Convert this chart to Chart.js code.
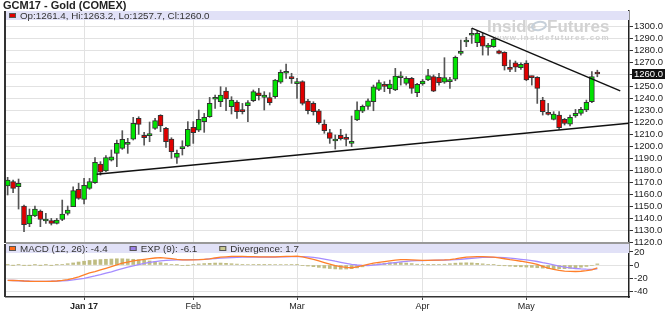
<!DOCTYPE html>
<html>
<head>
<meta charset="utf-8">
<title>GCM17 - Gold (COMEX)</title>
<script src="https://cdn.jsdelivr.net/npm/chart.js@4.4.1/dist/chart.umd.min.js"></script>
<style>
  html, body { margin: 0; padding: 0; background: #fff; }
  body { width: 665px; height: 311px; position: relative; overflow: hidden; }
  #title { position: absolute; left: 3px; top: -1px; z-index: 2; font: bold 11px "Liberation Sans", Arial, sans-serif; color: #222; white-space: nowrap; }
  .panel { position: absolute; left: 0; width: 665px; }
  #pricePanel { top: 0; height: 245px; }
  #macdPanel { top: 244px; height: 67px; }
</style>
</head>
<body>
<div class="panel" id="pricePanel"><canvas id="priceChart"></canvas></div>
<div class="panel" id="macdPanel"><canvas id="macdChart"></canvas></div>
<div id="title">GCM17 - Gold (COMEX)</div>
<script>
// Trading days on the chart, Dec 12 2016 .. May 18 2017
const dates = [
  '12-12','12-13','12-14','12-15','12-16','12-19','12-20','12-21','12-22','12-23','12-27','12-28','12-29','12-30',
  '01-03','01-04','01-05','01-06','01-09','01-10','01-11','01-12','01-13','01-17','01-18','01-19','01-20','01-23','01-24','01-25','01-26','01-27','01-30','01-31',
  '02-01','02-02','02-03','02-06','02-07','02-08','02-09','02-10','02-13','02-14','02-15','02-16','02-17','02-21','02-22','02-23','02-24','02-27','02-28',
  '03-01','03-02','03-03','03-06','03-07','03-08','03-09','03-10','03-13','03-14','03-15','03-16','03-17','03-20','03-21','03-22','03-23','03-24','03-27','03-28','03-29','03-30','03-31',
  '04-03','04-04','04-05','04-06','04-07','04-10','04-11','04-12','04-13','04-17','04-18','04-19','04-20','04-21','04-24','04-25','04-26','04-27','04-28',
  '05-01','05-02','05-03','05-04','05-05','05-08','05-09','05-10','05-11','05-12','05-15','05-16','05-17','05-18'
];

const opens = [
  1166.7,1170.3,1166.1,1150.0,1135.0,1141.7,1145.8,1137.5,1137.8,1135.6,
  1138.9,1143.9,1149.4,1163.9,1155.6,1164.7,1169.4,1185.0,1179.2,1188.3,
  1193.9,1198.1,1201.4,1205.8,1223.1,1208.9,1208.6,1214.7,1225.5,1214.7,
  1205.8,1190.6,1197.8,1200.0,1215.5,1213.3,1220.3,1224.4,1239.0,1236.9,
  1245.8,1232.8,1236.7,1230.0,1233.6,1237.8,1244.4,1240.5,1240.3,1241.1,
  1253.3,1260.6,1256.6,1252.0,1253.6,1237.5,1235.5,1229.4,1218.3,1211.1,
  1204.2,1208.9,1206.7,1202.2,1221.7,1229.0,1233.0,1236.9,1247.2,1250.8,
  1247.8,1246.7,1256.9,1252.2,1256.4,1244.4,1251.7,1255.0,1257.8,1257.2,
  1253.3,1253.6,1255.6,1277.2,1286.7,1292.3,1286.1,1291.7,1282.2,1282.8,
  1279.4,1278.0,1265.3,1269.4,1265.3,1268.9,1257.4,1257.2,1238.3,1228.0,
  1222.2,1225.8,1222.2,1218.3,1225.0,1227.2,1230.0,1236.9,1261.4
];
const highs = [
  1173.9,1171.7,1172.5,1150.8,1147.5,1150.0,1146.7,1143.9,1139.7,1139.7,
  1155.0,1150.0,1166.1,1169.0,1173.0,1173.0,1190.3,1187.0,1192.0,1196.7,
  1205.0,1212.8,1206.4,1223.9,1224.4,1211.4,1220.0,1223.0,1226.1,1215.5,
  1206.9,1196.7,1204.4,1220.3,1220.3,1230.0,1227.2,1240.5,1242.5,1249.4,
  1248.6,1241.1,1237.8,1235.5,1237.8,1246.7,1248.0,1245.3,1244.4,1255.5,
  1263.3,1268.3,1260.6,1256.4,1254.4,1238.9,1236.9,1230.5,1221.7,1213.9,
  1209.2,1213.9,1210.0,1225.0,1236.9,1234.2,1239.4,1250.8,1255.0,1253.6,
  1255.0,1264.7,1261.9,1257.8,1257.2,1252.2,1255.5,1263.9,1259.2,1260.6,
  1273.6,1257.2,1275.0,1288.3,1290.6,1297.9,1296.1,1293.9,1285.5,1289.7,
  1280.0,1278.6,1271.7,1270.8,1269.4,1271.1,1258.3,1257.8,1240.6,1235.5,
  1228.6,1228.6,1223.0,1225.8,1230.5,1232.2,1238.3,1262.0,1263.2
];
const lows = [
  1159.2,1161.1,1147.5,1128.6,1132.8,1141.1,1132.8,1135.6,1134.2,1135.0,
  1137.8,1142.5,1149.4,1155.6,1151.7,1163.9,1168.9,1175.8,1178.6,1187.5,
  1182.8,1197.2,1193.9,1205.0,1209.7,1200.8,1203.6,1213.9,1212.0,1198.9,
  1189.7,1185.5,1192.5,1199.4,1202.2,1212.0,1211.4,1223.9,1231.4,1232.8,
  1229.4,1226.7,1223.0,1226.7,1220.3,1236.9,1238.3,1230.0,1234.2,1239.7,
  1252.2,1256.4,1252.2,1239.7,1234.2,1226.7,1225.8,1218.3,1210.6,1202.2,
  1197.5,1205.0,1200.0,1199.4,1221.1,1227.8,1230.6,1229.4,1246.1,1245.3,
  1243.9,1246.1,1250.8,1250.8,1243.9,1241.1,1250.6,1254.4,1245.3,1250.8,
  1252.2,1248.0,1254.4,1275.8,1282.8,1285.5,1282.8,1275.8,1275.8,1282.2,
  1276.7,1263.3,1262.0,1262.0,1263.9,1254.4,1250.8,1235.5,1225.8,1225.8,
  1221.7,1213.9,1217.5,1216.7,1223.9,1225.8,1228.6,1236.1,1257.7
];
const closes = [
  1171.7,1164.7,1168.9,1134.4,1142.5,1147.5,1138.9,1138.6,1135.6,1138.3,
  1143.3,1146.7,1162.8,1156.4,1167.2,1170.3,1186.4,1178.3,1190.3,1191.1,
  1202.2,1205.6,1202.0,1218.9,1218.1,1207.0,1210.0,1221.1,1216.7,1203.6,
  1195.3,1193.9,1199.2,1213.9,1211.1,1222.2,1223.9,1235.6,1239.6,1242.5,
  1239.2,1238.3,1228.6,1228.6,1236.1,1245.3,1242.0,1242.5,1236.1,1255.0,
  1261.4,1262.0,1256.2,1253.0,1235.5,1229.4,1228.6,1219.4,1212.8,1206.4,
  1205.0,1206.1,1205.5,1203.6,1230.0,1233.0,1237.6,1249.4,1252.8,1249.7,
  1251.7,1258.3,1258.3,1256.4,1248.0,1251.4,1254.2,1258.6,1245.8,1252.8,
  1257.0,1255.0,1273.9,1277.8,1287.2,1292.7,1293.9,1283.3,1284.2,1288.9,
  1277.2,1266.7,1263.9,1265.6,1268.0,1255.0,1257.0,1248.0,1228.6,1226.4,
  1226.7,1215.3,1218.9,1223.9,1227.2,1230.5,1236.4,1257.8,1260.0
];

// MACD panel
const macdLine = [
  -23.6,-23.8,-24.0,-24.6,-25.0,-25.2,-25.2,-25.2,-25.0,-24.6,
  -23.6,-22.4,-20.6,-18.2,-15.2,-12.2,-10.0,-7.4,-5.0,-2.4,
  0.2,2.8,4.6,6.4,7.6,8.8,9.8,10.8,11.2,10.6,
  9.8,8.8,8.0,7.8,8.0,8.2,8.8,9.4,10.8,12.0,
  12.6,13.2,13.2,13.2,13.0,12.8,12.6,12.6,12.4,12.6,
  13.0,13.2,13.4,13.6,12.4,10.6,8.8,6.4,3.8,1.4,
  -1.0,-2.6,-3.8,-4.2,-2.8,-0.8,1.0,2.8,4.0,5.2,
  6.4,7.6,8.4,8.4,8.0,7.6,7.2,7.2,7.4,7.6,
  7.8,8.4,9.4,10.8,12.0,12.6,13.0,13.0,12.6,12.0,
  11.0,9.6,8.2,7.0,5.8,4.4,3.0,0.8,-2.2,-4.8,
  -6.8,-8.4,-9.4,-9.8,-10.0,-9.6,-8.8,-7.4,-4.4
];
const signalLine = [
  -23.6,-23.8,-24.2,-24.6,-24.9,-25.2,-25.2,-25.2,-25.0,-24.8,
  -24.4,-23.8,-22.8,-21.8,-20.4,-18.6,-16.8,-14.8,-12.6,-10.4,
  -8.0,-5.6,-3.4,-1.4,0.6,2.4,4.0,5.2,6.2,7.0,
  7.4,7.8,8.0,8.0,8.2,8.4,8.8,9.4,10.0,10.6,
  11.0,11.4,11.8,12.0,12.2,12.2,12.2,12.2,12.2,12.2,
  12.4,12.6,12.8,12.9,12.8,12.4,11.6,10.6,9.2,7.6,
  5.8,4.2,2.6,1.0,0.0,-0.6,-0.8,-0.2,0.8,1.8,
  2.8,3.8,4.8,5.6,6.2,6.6,6.8,7.0,7.2,7.4,
  7.6,7.8,8.2,8.8,9.6,10.4,11.0,11.6,11.8,11.8,
  11.6,11.2,10.6,9.8,8.8,7.8,6.6,5.4,3.6,2.0,
  0.2,-1.6,-3.2,-4.4,-5.4,-6.0,-6.4,-6.6,-6.1
];
const divergence = [
  0.3,-0.2,0.3,-0.3,-0.2,0.2,-0.2,0.2,-0.3,0.3,
  1.0,2.0,3.2,4.6,5.8,7.0,7.8,8.4,8.8,9.2,
  9.6,9.6,9.2,8.8,8.2,7.2,6.2,5.0,3.6,2.2,
  1.0,0.2,-0.6,-0.2,0.4,1.6,2.2,2.6,3.0,3.0,
  2.6,2.0,1.4,1.0,0.8,0.6,0.4,0.4,0.6,0.8,
  0.8,0.8,0.6,0.4,-0.6,-1.6,-2.6,-3.6,-4.6,-5.4,
  -6.0,-6.4,-6.2,-5.6,-4.4,-2.8,-1.0,0.6,1.8,2.8,
  3.4,3.8,3.6,3.0,2.2,1.2,0.6,0.4,0.4,0.6,
  1.2,2.0,2.8,3.2,3.4,3.2,2.6,1.8,1.0,0.4,
  -0.4,-1.2,-1.8,-2.4,-2.8,-3.2,-3.6,-4.2,-4.8,-5.4,
  -5.8,-5.8,-5.6,-5.2,-4.4,-3.4,-2.2,-0.8,1.7
];

// Trend lines: candle index / price of each end
const upperTrendIdx = [85, 112.2];
const upperTrendPrice = [1298.2, 1245.9];
const lowerTrendIdx = [16.3, 113.8];
const lowerTrendPrice = [1176.4, 1219.0];

// Axis ticks
const monthTickDates = ['01-03', '02-01', '03-01', '04-03', '05-01'];
const monthTickLabels = ['Jan 17', 'Feb', 'Mar', 'Apr', 'May'];
const priceTicks = [1120,1130,1140,1150,1160,1170,1180,1190,1200,1210,1220,1230,1240,1250,1260,1270,1280,1290,1300];
const macdTicks = [20, 0, -20, -40];

const FONT = '"Liberation Sans", Arial, sans-serif';
const GREEN = '#00e400', RED = '#e00000';
const xMin = -0.3, xMax = 113.8;
const monthIdx = monthTickDates.map(d => dates.indexOf(d));
const lastI = closes.length - 1;
const fmt = v => v.toFixed(1);

// scales must not steal extra room for their end labels
const noPad = s => { s.paddingTop = 0; s.paddingBottom = 0; s.paddingLeft = 0; s.paddingRight = 0; };

const xAxis = (showLabels) => ({
    type: 'linear',
    min: xMin,
    max: xMax,
    offset: false,
    afterBuildTicks: s => { s.ticks = monthIdx.map(v => ({ value: v })); },
    grid: { offset: false, color: '#e2e2e2', drawTicks: showLabels, tickLength: 3, tickColor: '#444' },
    border: { display: showLabels, color: '#333', width: 1.5 },
    ticks: {
        display: showLabels,
        autoSkip: false,
        maxRotation: 0,
        padding: 1,
        color: '#222',
        font: c => ({ family: FONT, size: 9, weight: c.tick && c.tick.value === monthIdx[0] ? 'bold' : 'normal' }),
        callback: v => monthTickLabels[monthIdx.indexOf(v)]
    },
    afterFit: s => { s.height = showLabels ? 14 : 0; noPad(s); }
});

const yAxis = (ticks, lo, hi, label) => ({
    position: 'right',
    min: lo,
    max: hi,
    afterBuildTicks: s => { s.ticks = ticks.map(v => ({ value: v })); },
    grid: { color: '#e2e2e2', tickLength: 4, tickColor: '#333' },
    border: { color: '#222', width: 1.5 },
    ticks: { color: '#222', padding: 1, autoSkip: false, font: { family: FONT, size: 9.5 }, callback: label },
    afterFit: s => { s.width = 36; noPad(s); }
});

// Lavender strip with legend squares across the top of a panel
const headerPlugin = {
    id: 'header',
    beforeDatasetsDraw(chart, args, opts) {
        const { ctx, chartArea: a } = chart;
        ctx.save();
        ctx.fillStyle = '#e1e1f7';
        ctx.fillRect(a.left, a.top, a.right - a.left, 9);
        ctx.font = '9.8px ' + FONT;
        ctx.textBaseline = 'middle';
        let x = a.left + 3;
        opts.items.forEach(it => {
            ctx.fillStyle = it.color;
            ctx.fillRect(x, a.top + 2, 7, 5);
            ctx.strokeStyle = '#555';
            ctx.lineWidth = 1;
            ctx.strokeRect(x + 0.5, a.top + 2.5, 6, 4);
            ctx.fillStyle = '#333';
            ctx.fillText(it.text, x + 11, a.top + 5);
            x += 11 + ctx.measureText(it.text).width + 22;
        });
        ctx.restore();
    },
    afterDraw(chart) {
        const { ctx, chartArea: a } = chart;
        ctx.save();
        ctx.fillStyle = '#333';
        ctx.fillRect(a.left - 2, a.top, 2, a.bottom - a.top);
        ctx.restore();
    }
};

// Inside Futures watermark and the last-price tag
const pricePlugin = {
    id: 'priceExtras',
    beforeDatasetsDraw(chart) {
        const { ctx, chartArea: a } = chart;
        ctx.save();
        ctx.fillStyle = '#d2d2d2';
        ctx.textBaseline = 'alphabetic';
        ctx.font = 'bold 17px ' + FONT;
        ctx.fillText('Inside', a.right - 142, a.top + 21);
        ctx.fillText('Futures', a.right - 82, a.top + 21);
        ctx.strokeStyle = '#c6d0da';
        ctx.lineWidth = 2;
        ctx.beginPath();
        ctx.ellipse(a.right - 90, a.top + 15, 7, 4, -0.2, 0, Math.PI * 2);
        ctx.stroke();
        ctx.font = 'bold 8px ' + FONT;
        ctx.letterSpacing = '1.2px';
        ctx.fillText('www.insidefutures.com', a.right - 134, a.top + 29);
        ctx.restore();
    },
    afterDraw(chart) {
        const { ctx, chartArea: a } = chart;
        const y = chart.scales.y.getPixelForValue(closes[lastI]);
        ctx.save();
        ctx.fillStyle = '#999';
        ctx.fillRect(a.left, a.bottom - 1, a.right - a.left, 2);
        ctx.fillStyle = '#111';
        ctx.fillRect(a.right + 3, y - 5, 33, 10);
        ctx.fillStyle = '#fff';
        ctx.font = '9.5px ' + FONT;
        ctx.textBaseline = 'middle';
        ctx.fillText(fmt(closes[lastI]), a.right + 5, y + 0.5);
        ctx.restore();
    }
};

const up = closes.map((c, i) => c >= opens[i]);

new Chart(document.getElementById('priceChart'), {
    type: 'bar',
    data: {
        datasets: [
            {
                type: 'line',
                data: upperTrendIdx.map((x, i) => ({ x: x, y: upperTrendPrice[i] })),
                borderColor: '#111', borderWidth: 1.5, pointRadius: 0, order: 0
            },
            {
                type: 'line',
                data: lowerTrendIdx.map((x, i) => ({ x: x, y: lowerTrendPrice[i] })),
                borderColor: '#111', borderWidth: 1.5, pointRadius: 0, order: 0
            },
            {
                // candle bodies
                data: dates.map((d, i) => ({ x: i, y: [opens[i], closes[i]] })),
                backgroundColor: up.map(u => u ? GREEN : RED),
                borderColor: '#333', borderWidth: 1, borderSkipped: false,
                barThickness: 5, minBarLength: 2, grouped: false, order: 1
            },
            {
                // wicks
                data: dates.map((d, i) => ({ x: i, y: [lows[i], highs[i]] })),
                backgroundColor: '#555', barThickness: 1, grouped: false, order: 2
            }
        ]
    },
    options: {
        responsive: true,
        maintainAspectRatio: false,
        animation: false,
        devicePixelRatio: 1,
        events: [],
        layout: { padding: { left: 6, top: 11, right: 0, bottom: 2 } },
        scales: {
            x: xAxis(false),
            y: yAxis(priceTicks, 1119.2, 1312.5, v => fmt(v))
        },
        plugins: {
            legend: { display: false },
            tooltip: { enabled: false },
            header: {
                items: [{
                    color: closes[lastI] >= opens[lastI] ? GREEN : RED,
                    text: 'Op:' + fmt(opens[lastI]) + ', Hi:' + fmt(highs[lastI]) + ', Lo:' + fmt(lows[lastI]) + ', Cl:' + fmt(closes[lastI])
                }]
            }
        }
    },
    plugins: [headerPlugin, pricePlugin]
});

new Chart(document.getElementById('macdChart'), {
    type: 'bar',
    data: {
        datasets: [
            {
                type: 'line',
                data: macdLine.map((v, i) => ({ x: i, y: v })),
                borderColor: '#ff7f2a', borderWidth: 1.3, pointRadius: 0, order: 0
            },
            {
                type: 'line',
                data: signalLine.map((v, i) => ({ x: i, y: v })),
                borderColor: '#a58cff', borderWidth: 1.3, pointRadius: 0, order: 0
            },
            {
                data: divergence.map((v, i) => ({ x: i, y: v })),
                backgroundColor: '#bfbc82', barThickness: 3, grouped: false, order: 1
            }
        ]
    },
    options: {
        responsive: true,
        maintainAspectRatio: false,
        animation: false,
        devicePixelRatio: 1,
        events: [],
        layout: { padding: { left: 6, top: 0, right: 0, bottom: 0 } },
        scales: {
            x: xAxis(true),
            y: yAxis(macdTicks, -49.2, 32.3, v => String(v))
        },
        plugins: {
            legend: { display: false },
            tooltip: { enabled: false },
            header: {
                items: [
                    { color: '#ff6a1a', text: 'MACD (12, 26): ' + fmt(macdLine[lastI]) },
                    { color: '#9b7fe8', text: 'EXP (9): ' + fmt(signalLine[lastI]) },
                    { color: '#c8c890', text: 'Divergence: ' + fmt(divergence[lastI]) }
                ]
            }
        }
    },
    plugins: [headerPlugin]
});
</script>
</body>
</html>
